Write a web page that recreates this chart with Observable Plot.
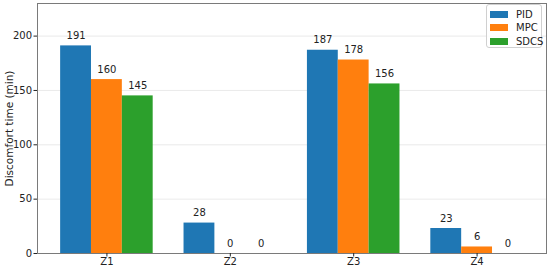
<!DOCTYPE html>
<html>
<head>
<meta charset="utf-8">
<script src="https://cdn.jsdelivr.net/npm/d3@7"></script>
<script src="https://cdn.jsdelivr.net/npm/@observablehq/plot@0.6"></script>
<style>
  html, body { margin: 0; padding: 0; background: #fff; }
  #wrap { position: relative; width: 550px; height: 268px; font-family: "DejaVu Sans", sans-serif; }
  #legend { position: absolute; left: 486px; top: 4px; width: 56px; height: 44px; border: 1px solid #d0d0d0; border-radius: 3px; background: rgba(255,255,255,0.85); font-size: 10px; color: #222; box-sizing: border-box; }
  .li { position: absolute; left: 3px; height: 14px; display: flex; align-items: center; }
  .sw { width: 18px; height: 7px; margin-right: 8px; }
</style>
</head>
<body>
<div id="wrap"></div>
<script>
const zones = ["Z1", "Z2", "Z3", "Z4"];
const methods = ["PID", "MPC", "SDCS"];
const colors = ["#1f77b4", "#ff7f0e", "#2ca02c"];
const pid = [191, 28, 187, 23];
const mpc = [160, 0, 178, 6];
const sdcs = [145, 0, 156, 0];
const yTicks = [0, 50, 100, 150, 200];

const series = [pid, mpc, sdcs];
const barW = 0.25;
const rows = [];
zones.forEach((z, i) => {
  series.forEach((s, j) => {
    const c = i + (j - 1) * barW;
    rows.push({zone: z, method: methods[j], value: s[i], x1: c - barW / 2, x2: c + barW / 2, xc: c});
  });
});

const chart = Plot.plot({
  width: 550,
  height: 268,
  marginLeft: 37,
  marginRight: 4,
  marginTop: 3,
  marginBottom: 15,
  style: {fontFamily: "DejaVu Sans, sans-serif", fontSize: "10px", color: "#222", background: "#fff"},
  x: {domain: [-0.5625, 3.5625], label: null},
  y: {domain: [0, 230], label: null},
  color: {domain: methods, range: colors},
  marks: [
    Plot.gridY(yTicks.slice(1), {stroke: "#e4e4e4", strokeOpacity: 1, strokeWidth: 0.8}),
    Plot.rect(rows, {x1: "x1", x2: "x2", y1: 0, y2: "value", fill: "method"}),
    Plot.text(rows, {x: "xc", y: "value", text: d => String(d.value), dy: -10, fontSize: 10, fill: "#222"}),
    Plot.frame({stroke: "#7a7a7a", strokeWidth: 1}),
    Plot.axisX({ticks: [0, 1, 2, 3], tickFormat: i => zones[i], tickSize: 3.5, tickPadding: 1, fontSize: 10, label: null}),
    Plot.axisY({ticks: yTicks, tickSize: 3.5, tickPadding: 2, fontSize: 10, label: null}),
    Plot.text(["Discomfort time (min)"], {frameAnchor: "left", textAnchor: "middle", dx: -28, rotate: -90, fontSize: 10.5, fill: "#222"})
  ]
});
const wrap = document.getElementById("wrap");
wrap.appendChild(chart);

const leg = document.createElement("div");
leg.id = "legend";
methods.forEach((m, j) => {
  const it = document.createElement("div");
  it.className = "li";
  it.style.top = (2 + j * 13.5) + "px";
  const sw = document.createElement("span");
  sw.className = "sw";
  sw.style.background = colors[j];
  const t = document.createElement("span");
  t.textContent = m;
  it.appendChild(sw);
  it.appendChild(t);
  leg.appendChild(it);
});
wrap.appendChild(leg);
</script>
</body>
</html>
